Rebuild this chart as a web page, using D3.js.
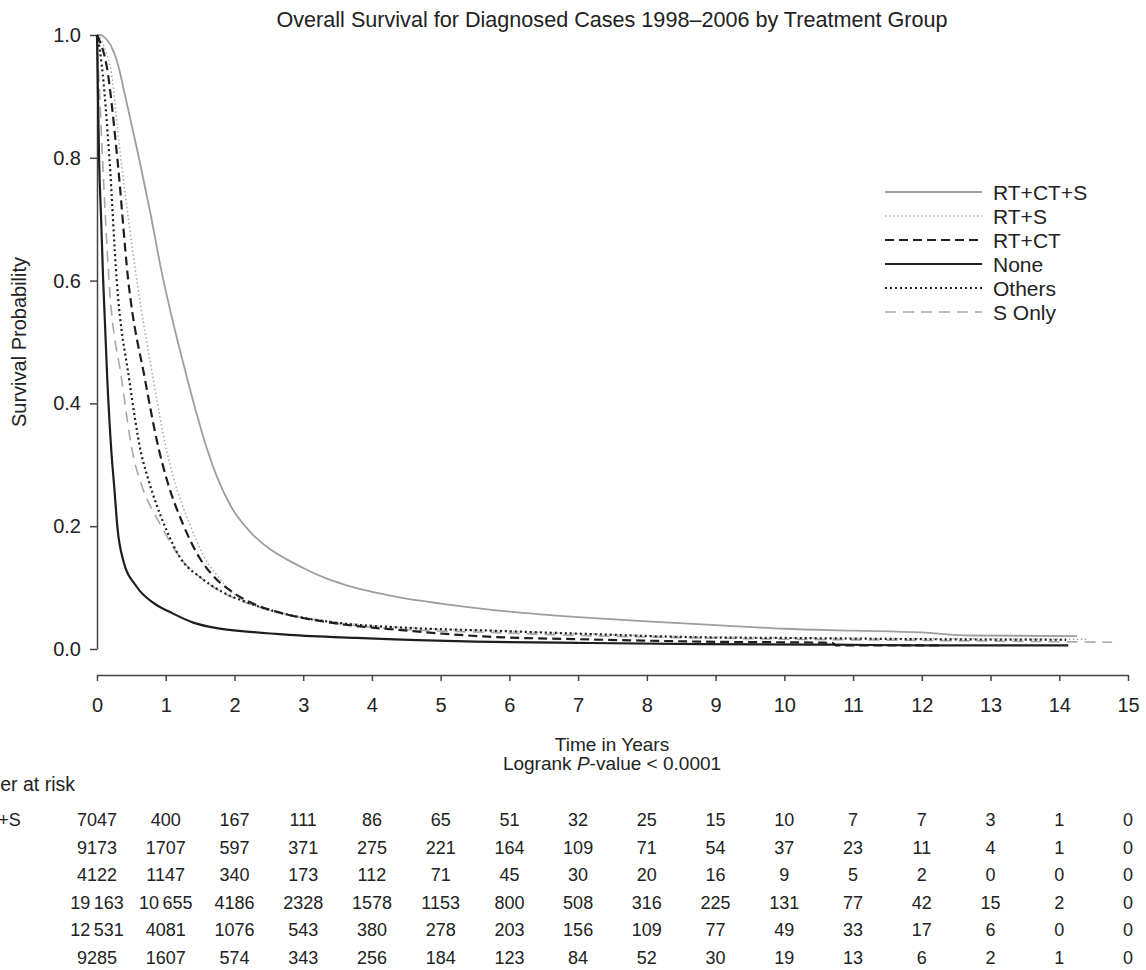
<!DOCTYPE html>
<html><head><meta charset="utf-8">
<script src="https://cdn.jsdelivr.net/npm/d3@7"></script>
<style>
html,body{margin:0;padding:0;background:#fff;}
svg{display:block;font-family:"Liberation Sans",Arial,Helvetica,sans-serif;}
</style></head>
<body><svg id="chart" width="1146" height="970"></svg>
<script>
const groups = ["RT+CT+S","RT+S","RT+CT","None","Others","S Only"];
const xTicks = [0,1,2,3,4,5,6,7,8,9,10,11,12,13,14,15];
const yTicks = [0.0,0.2,0.4,0.6,0.8,1.0];

// survival curves [years, probability]
const survRTCTS = [[0,1],[0.05,1],[0.1,0.997],[0.2,0.983],[0.3,0.954],[0.4,0.906],[0.61,0.80],[0.78,0.708],[0.93,0.62],[1.1,0.535],[1.3,0.446],[1.45,0.383],[1.6,0.326],[1.75,0.279],[1.95,0.232],[2.27,0.186],[2.5,0.164],[2.76,0.146],[3.0,0.132],[3.29,0.117],[3.6,0.105],[3.93,0.095],[4.4,0.084],[5.0,0.074],[6.0,0.061],[7.0,0.052],[8.0,0.045],[9.0,0.039],[10.0,0.033],[11.0,0.03],[12.0,0.027],[12.7,0.022],[14.26,0.021]];
const survRTS = [[0,1],[0.05,0.995],[0.12,0.975],[0.19,0.95],[0.345,0.80],[0.58,0.60],[0.82,0.438],[1.0,0.33],[1.11,0.28],[1.35,0.203],[1.57,0.148],[1.76,0.118],[1.95,0.094],[2.25,0.073],[2.8,0.056],[3.4,0.045],[4.6,0.034],[5.7,0.03],[7.0,0.025],[8.8,0.02],[10.0,0.018],[12.0,0.017],[14.4,0.016]];
const survRTCT = [[0,1],[0.04,0.99],[0.14,0.95],[0.295,0.80],[0.455,0.60],[0.70,0.438],[0.9,0.325],[1.01,0.278],[1.26,0.201],[1.50,0.147],[1.69,0.119],[1.98,0.092],[2.23,0.076],[2.7,0.058],[3.4,0.043],[4.6,0.029],[5.7,0.02],[7.0,0.016],[8.8,0.012],[10.7,0.01],[10.75,0.006],[12.3,0.006]];
const survNone = [[0,1],[0.01,0.93],[0.03,0.80],[0.06,0.70],[0.09,0.60],[0.15,0.438],[0.21,0.32],[0.25,0.265],[0.3,0.195],[0.38,0.145],[0.58,0.101],[0.82,0.075],[1.1,0.058],[1.4,0.043],[1.74,0.034],[2.23,0.028],[2.8,0.023],[3.78,0.018],[5.5,0.012],[7.0,0.01],[8.8,0.008],[10.7,0.007],[12.0,0.006],[14.13,0.006]];
const survOthers = [[0,1],[0.02,0.99],[0.07,0.95],[0.18,0.80],[0.287,0.60],[0.47,0.438],[0.64,0.32],[0.75,0.275],[0.99,0.199],[1.22,0.147],[1.5,0.117],[1.84,0.092],[2.18,0.076],[2.7,0.058],[3.4,0.044],[4.6,0.034],[5.7,0.03],[7.0,0.025],[8.8,0.019],[10.0,0.018],[12.0,0.016],[14.1,0.015]];
const survSOnly = [[0,1],[0.01,0.97],[0.04,0.90],[0.08,0.80],[0.175,0.60],[0.36,0.438],[0.53,0.313],[0.64,0.27],[0.94,0.199],[1.25,0.143],[1.5,0.117],[1.84,0.091],[2.18,0.075],[2.7,0.058],[3.4,0.043],[4.6,0.031],[5.7,0.027],[7.0,0.022],[8.8,0.018],[10.0,0.016],[12.0,0.014],[14.77,0.011]];

// number at risk per group at each year
const riskRTCTS  = [7047,400,167,111,86,65,51,32,25,15,10,7,7,3,1,0];
const riskRTS    = [9173,1707,597,371,275,221,164,109,71,54,37,23,11,4,1,0];
const riskRTCT   = [4122,1147,340,173,112,71,45,30,20,16,9,5,2,0,0,0];
const riskNone   = [19163,10655,4186,2328,1578,1153,800,508,316,225,131,77,42,15,2,0];
const riskOthers = [12531,4081,1076,543,380,278,203,156,109,77,49,33,17,6,0,0];
const riskSOnly  = [9285,1607,574,343,256,184,123,84,52,30,19,13,6,2,1,0];

const curves = [survRTCTS,survRTS,survRTCT,survNone,survOthers,survSOnly];
const risks = [riskRTCTS,riskRTS,riskRTCT,riskNone,riskOthers,riskSOnly];
const styles = [
  {color:"#9e9e9e", w:1.8, dash:null},
  {color:"#a8a8a8", w:1.5, dash:"1.5 2.5"},
  {color:"#1e1e1e", w:2.2, dash:"9 5"},
  {color:"#1e1e1e", w:2.2, dash:null},
  {color:"#1e1e1e", w:2.2, dash:"2 3"},
  {color:"#a8a8a8", w:1.6, dash:"11 7"}
];

const svg = d3.select("#chart");
const x = d3.scaleLinear().domain([0,15]).range([97,1128]);
const y = d3.scaleLinear().domain([0,1]).range([649,35]);
const txt = "#222";

// title
svg.append("text").attr("x",612).attr("y",27).attr("text-anchor","middle")
  .attr("font-size",21.6).attr("fill",txt)
  .text("Overall Survival for Diagnosed Cases 1998\u20132006 by Treatment Group");

// y axis
const yAx = svg.append("g").attr("transform","translate(97,0)")
  .call(d3.axisLeft(y).tickValues(yTicks).tickFormat(d3.format(".1f")).tickSize(7).tickSizeOuter(0).tickPadding(9));
// x axis
const xAx = svg.append("g").attr("transform","translate(0,675)")
  .call(d3.axisBottom(x).tickValues(xTicks).tickFormat(d3.format("d")).tickSize(6).tickSizeOuter(0).tickPadding(17));
[yAx,xAx].forEach(g=>{
  g.select(".domain").attr("stroke","#444").attr("stroke-width",1.5);
  g.selectAll(".tick line").attr("stroke","#444").attr("stroke-width",1.5);
  g.selectAll(".tick text").attr("fill",txt).attr("font-size",20).attr("font-family","Liberation Sans, Arial, sans-serif");
});

// y label
svg.append("text").attr("transform","translate(26,342) rotate(-90)").attr("text-anchor","middle")
  .attr("font-size",20).attr("fill",txt).text("Survival Probability");

// x labels
svg.append("text").attr("x",612).attr("y",751).attr("text-anchor","middle")
  .attr("font-size",19).attr("fill",txt).text("Time in Years");
const lr = svg.append("text").attr("x",612).attr("y",770).attr("text-anchor","middle")
  .attr("font-size",19).attr("fill",txt);
lr.append("tspan").text("Logrank ");
lr.append("tspan").attr("font-style","italic").text("P");
lr.append("tspan").text("-value < 0.0001");

// curves
const line = d3.line().x(d=>x(d[0])).y(d=>y(d[1])).curve(d3.curveMonotoneX);
const order = [0,1,5,4,2,3];
order.forEach(i=>{
  const st = styles[i];
  svg.append("path").datum(curves[i]).attr("d",line)
    .attr("fill","none").attr("stroke",st.color).attr("stroke-width",st.w)
    .attr("stroke-dasharray",st.dash);
});

// legend
const leg = svg.append("g");
groups.forEach((g,i)=>{
  const st = styles[i];
  const ly = 192 + i*24;
  leg.append("line").attr("x1",885).attr("x2",982).attr("y1",ly).attr("y2",ly)
    .attr("stroke",st.color).attr("stroke-width",st.w).attr("stroke-dasharray",st.dash);
  leg.append("text").attr("x",993).attr("y",ly+7.5).attr("font-size",21).attr("fill",txt).text(g);
});

// number at risk table
const fmt = v => v >= 10000 ? d3.format(",")(v).replace(",","\u2009") : String(v);
svg.append("text").attr("x",75).attr("y",791).attr("text-anchor","end")
  .attr("font-size",19.5).attr("fill",txt).text("Number at risk");
groups.forEach((g,i)=>{
  const ry = 826 + i*27.5;
  svg.append("text").attr("x",-60).attr("y",ry).attr("font-size",18).attr("fill",txt).text(g);
  svg.append("g").selectAll("text").data(risks[i]).join("text")
    .attr("x",(d,j)=>x(xTicks[j])).attr("y",ry).attr("text-anchor","middle")
    .attr("font-size",18).attr("fill",txt).text(d=>fmt(d));
});
</script></body></html>
